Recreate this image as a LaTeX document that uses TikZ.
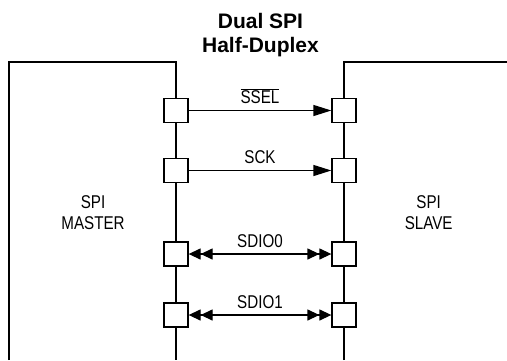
\documentclass[tikz,border=0pt]{standalone}
\usepackage{fontspec}
\setmainfont{Liberation Sans}
\newfontfamily\narrowfont[FakeStretch=0.82]{Liberation Sans}
\usetikzlibrary{arrows.meta}
\tikzset{
    onehead/.tip={Triangle[length=18pt,width=11pt]},
    twohead/.tip={Triangle[length=12pt,width=11pt,sep=0pt]Triangle[length=12pt,width=11pt,sep=0pt]}
}
\begin{document}
\begin{tikzpicture}[x=1pt,y=-1pt,line width=1.3pt,
        port/.style={draw,fill=white,minimum size=24pt,inner sep=0pt},
        side/.style={font=\narrowfont\fontsize{18.5}{21.7}\selectfont,align=center,inner sep=0pt},
        sig/.style={font=\narrowfont\fontsize{18.5}{21.7}\selectfont,inner sep=0pt,above=6pt},
        head/.style={font=\bfseries\fontsize{21}{24}\selectfont,inner sep=0pt,anchor=base}]
        \useasboundingbox (0,0) rectangle (507,360);
        \node[head] (title1) at (260.5,28.3) {Dual SPI};
        \node[head] (title2) at (260.5,52.3) {Half-Duplex};
        \draw (9,360) -- (9,62) -- (176,62) -- (176,360);
        \draw (344,360) -- (344,62) -- (507,62);
        \node[side] (master) at (93,212.5) {SPI\\MASTER};
        \node[side] (slave) at (428.7,212.5) {SPI\\SLAVE};
        \foreach \y/\n in {110.5/1,170.5/2,254/3,315/4} {
            \node[port] (m\n) at (176,\y) {};
            \node[port] (s\n) at (344,\y) {};
        }
        \draw [-onehead] (m1) -- node [sig] {$\overline{\mbox{SSEL}}$} (s1);
        \draw [-onehead] (m2) -- node [sig] {SCK} (s2);
        \draw [twohead-twohead] (m3) -- node [sig] {SDIO0} (s3);
        \draw [twohead-twohead] (m4) -- node [sig] {SDIO1} (s4);
    \end{tikzpicture}
\end{document}
